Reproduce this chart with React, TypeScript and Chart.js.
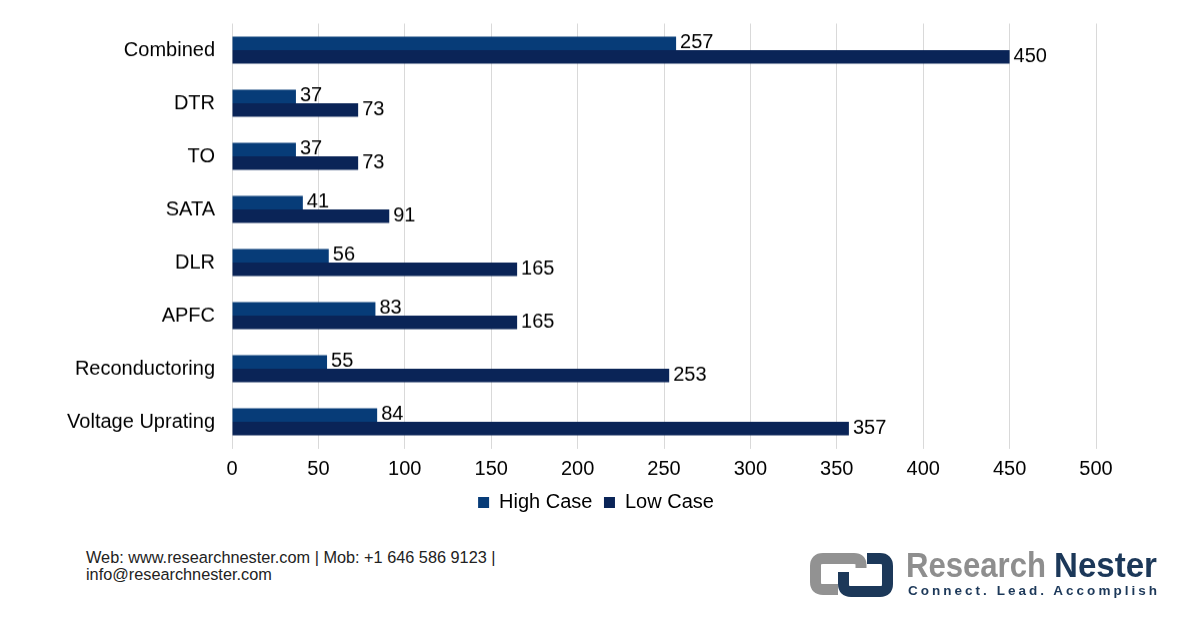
import React, { useEffect, useRef } from "react";
import { Chart, registerables } from "chart.js";

Chart.register(...registerables);

const categories = [
  "Combined",
  "DTR",
  "TO",
  "SATA",
  "DLR",
  "APFC",
  "Reconductoring",
  "Voltage Uprating",
];
const highCase = [257, 37, 37, 41, 56, 83, 55, 84];
const lowCase = [450, 73, 73, 91, 165, 165, 253, 357];
const xTicks = [0, 50, 100, 150, 200, 250, 300, 350, 400, 450, 500];

const FONT = '"Liberation Sans", Arial, Helvetica, sans-serif';

const dataLabels = {
  id: "dataLabels",
  afterDatasetsDraw(chart: any) {
    const ctx = chart.ctx;
    ctx.save();
    ctx.font = `20px ${FONT}`;
    ctx.fillStyle = "#000";
    ctx.textAlign = "left";
    ctx.textBaseline = "middle";
    chart.data.datasets.forEach((ds: any, di: number) => {
      const meta = chart.getDatasetMeta(di);
      meta.data.forEach((bar: any, i: number) => {
        ctx.fillText(String(ds.data[i]), bar.x + 4, bar.y - 0.5);
      });
    });
    ctx.restore();
  },
};

export default function App() {
  const ref = useRef<HTMLCanvasElement | null>(null);

  useEffect(() => {
    if (!ref.current) return;
    const chart = new Chart(ref.current, {
      type: "bar",
      data: {
        labels: categories,
        datasets: [
          {
            label: "High Case",
            data: highCase,
            backgroundColor: "#073C78",
            borderWidth: 0,
          },
          {
            label: "Low Case",
            data: lowCase,
            backgroundColor: "#0A2457",
            borderWidth: 0,
          },
        ],
      },
      options: {
        indexAxis: "y",
        animation: false,
        responsive: true,
        maintainAspectRatio: false,
        layout: { padding: { left: 0, right: 8, top: 23.5, bottom: 0 } },
        datasets: {
          bar: { categoryPercentage: 0.51, barPercentage: 1.0 },
        },
        scales: {
          x: {
            min: 0,
            max: 500,
            afterBuildTicks: (scale: any) => {
              scale.ticks = xTicks.map((v) => ({ value: v }));
            },
            afterFit: (scale: any) => {
              scale.height = 32.5;
            },
            grid: { color: "#d9d9d9", drawTicks: false, lineWidth: 1 },
            border: { display: false },
            ticks: {
              padding: 8.5,
              color: "#000",
              font: { family: FONT, size: 20 },
            },
          },
          y: {
            afterFit: (scale: any) => {
              scale.width = 232;
              scale.paddingTop = 0;
              scale.paddingBottom = 0;
            },
            grid: { display: false, drawTicks: false },
            border: { display: false },
            ticks: {
              padding: 17,
              color: "#000",
              font: { family: FONT, size: 20 },
            },
          },
          spacer: {
            type: "linear",
            position: "right",
            afterFit: (scale: any) => {
              scale.width = 96;
              scale.paddingTop = 0;
              scale.paddingBottom = 0;
            },
            grid: { display: false, drawTicks: false },
            border: { display: false },
            ticks: { display: false },
          },
        },
        plugins: {
          legend: {
            position: "bottom",
            labels: {
              boxWidth: 11,
              boxHeight: 11,
              padding: 11.5,
              color: "#000",
              font: { family: FONT, size: 20 },
            },
          },
          tooltip: { enabled: false },
        },
      },
      plugins: [dataLabels],
    });
    return () => chart.destroy();
  }, []);

  return (
    <div
      style={{
        position: "absolute",
        left: 0,
        top: 0,
        width: 1200,
        height: 628,
        background: "#fff",
        overflow: "hidden",
      }}
    >
      <div style={{ position: "absolute", left: 0, top: 0, width: 1200, height: 521.5 }}>
        <canvas ref={ref} />
      </div>
      <div
        style={{
          position: "absolute",
          left: 86,
          top: 549,
          fontFamily: FONT,
          fontSize: 16.3,
          lineHeight: "16.5px",
          color: "#222",
          whiteSpace: "nowrap",
        }}
      >
        Web: www.researchnester.com | Mob: +1 646 586 9123 |
        <br />
        info@researchnester.com
      </div>
      <svg
        style={{ position: "absolute", left: 0, top: 0 }}
        width={1200}
        height={628}
        viewBox="0 0 1200 628"
      >
        <path
          d="M 838 589.5 H 823 Q 815.5 589.5 815.5 582 V 566 Q 815.5 558.5 823 558.5 H 854 Q 861 558.5 861 565 V 568"
          fill="none"
          stroke="#929292"
          strokeWidth={11}
          strokeLinejoin="round"
        />
        <path
          d="M 867 558.5 H 880 Q 887.5 558.5 887.5 566 V 584 Q 887.5 591.5 880 591.5 H 851 Q 843.5 591.5 843.5 584 V 572"
          fill="none"
          stroke="#1C3859"
          strokeWidth={11}
          strokeLinejoin="round"
        />
        <text
          x={906}
          y={577}
          fontFamily={FONT}
          fontWeight="bold"
          fontSize={35}
          fill="#8E8E8E"
          textLength={140}
          lengthAdjust="spacingAndGlyphs"
        >
          Research
        </text>
        <text
          x={1054}
          y={577}
          fontFamily={FONT}
          fontWeight="bold"
          fontSize={35}
          fill="#1C3859"
          textLength={103}
          lengthAdjust="spacingAndGlyphs"
        >
          Nester
        </text>
        <text
          x={908}
          y={595}
          fontFamily={FONT}
          fontWeight="bold"
          fontSize={13.5}
          fill="#1C3859"
          textLength={249}
          lengthAdjust="spacing"
        >
          Connect. Lead. Accomplish
        </text>
      </svg>
    </div>
  );
}
